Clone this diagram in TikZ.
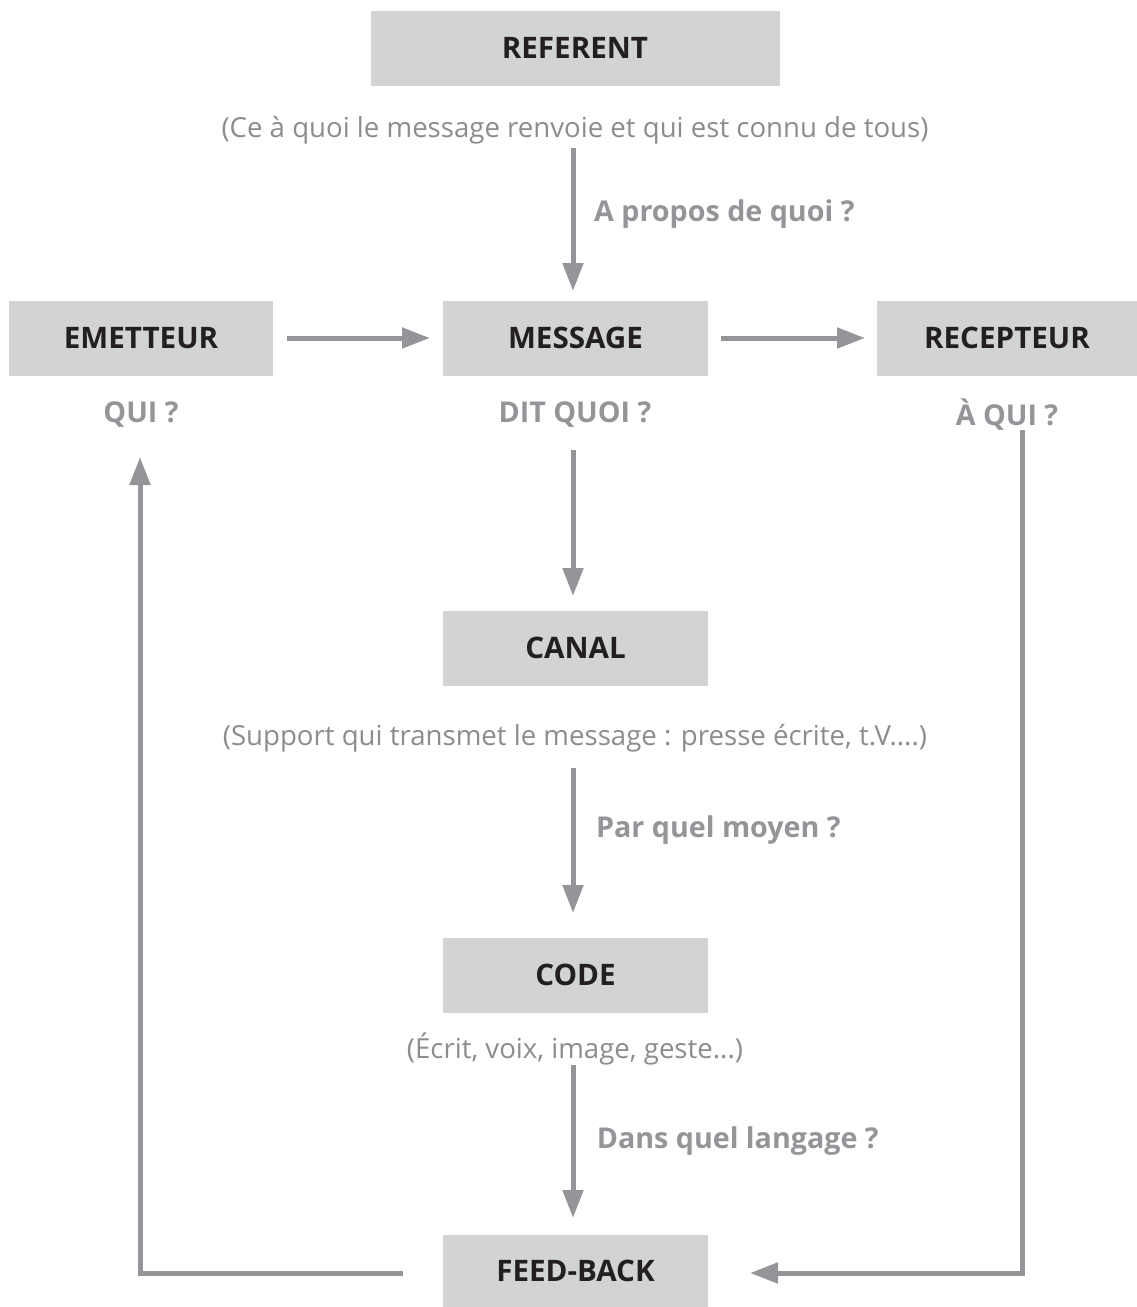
\documentclass[tikz,border=0pt]{standalone}
\usepackage{fontspec}
\setmainfont{Open Sans}
\usetikzlibrary{arrows.meta}
\definecolor{boxfill}{HTML}{D1D3D4}
\definecolor{inkdark}{HTML}{231F20}
\definecolor{arrowgray}{HTML}{939598}
\definecolor{notegray}{HTML}{8C8C8E}
\tikzset{
  box/.style={fill=boxfill, inner sep=0pt, minimum height=56.25pt,
    font=\bfseries\fontsize{22.2}{26}\selectfont, text=inkdark},
  smallbox/.style={box, minimum width=198.75pt},
  note/.style={inner sep=0pt, text=notegray, font=\fontsize{20.7}{24}\selectfont},
  question/.style={inner sep=0pt, text=arrowgray, font=\bfseries\fontsize{21.5}{25}\selectfont},
  flow/.style={draw=arrowgray, line width=3.75pt,
    -{Triangle[width=15pt,length=21pt]}},
}
\begin{document}
\begin{tikzpicture}[x=0.75pt, y=-0.75pt]
  \useasboundingbox (0,0) rectangle (1137,1307);

  % boxes
  \node[box, minimum width=306.75pt] (referent) at (575,48) {REFERENT};
  \node[box, minimum width=198pt] (emetteur) at (141,338) {EMETTEUR};
  \node[smallbox] (message) at (575.5,338) {MESSAGE};
  \node[box, minimum width=195pt] (recepteur) at (1007,338) {RECEPTEUR};
  \node[smallbox] (canal) at (575.5,648) {CANAL};
  \node[smallbox] (code) at (575.5,975) {CODE};
  \node[smallbox, minimum height=54pt] (feedback) at (575.5,1271) {FEED-BACK};

  % explanatory notes under the boxes
  \node[note] (n-ref) at (575,130) {(Ce à quoi le message renvoie et qui est connu de tous)};
  \node[note] (n-canal) at (575,738) {(Support qui transmet le message : presse écrite, t.V....)};
  \node[note] (n-code) at (575,1049) {(Écrit, voix, image, geste...)};

  % questions
  \node[question] (q-qui) at (141,415) {QUI ?};
  \node[question] (q-quoi) at (575,415) {DIT QUOI ?};
  \node[question] (q-aqui) at (1007,415) {À QUI ?};

  % vertical flow
  \coordinate (a1s) at (573,148);
  \coordinate (a1e) at (573,291);
  \draw[flow] (a1s) -- node[question, right=14pt, pos=0.46] (l-propos) {A propos de quoi ?} (a1e);

  \coordinate (a2s) at (573,450);
  \coordinate (a2e) at (573,596);
  \draw[flow] (a2s) -- (a2e);

  \coordinate (a3s) at (573,768);
  \coordinate (a3e) at (573,913);
  \draw[flow] (a3s) -- node[question, right=15.5pt, pos=0.43] (l-moyen) {Par quel moyen ?} (a3e);

  \coordinate (a4s) at (573,1065);
  \coordinate (a4e) at (573,1218);
  \draw[flow] (a4s) -- node[question, right=16pt, pos=0.5] (l-langage) {Dans quel langage ?} (a4e);

  % horizontal flow
  \coordinate (h1s) at (287,338);
  \coordinate (h1e) at (430,338);
  \draw[flow] (h1s) -- (h1e);
  \coordinate (h2s) at (721,338);
  \coordinate (h2e) at (865,338);
  \draw[flow] (h2s) -- (h2e);

  % feed-back loops
  \coordinate (fbl) at (403,1273);
  \coordinate (fbtop) at (140,457);
  \draw[flow] (fbl) -- (fbtop |- fbl) -- (fbtop);

  \coordinate (fbr) at (1022,430);
  \coordinate (fbtip) at (750,1273);
  \draw[flow] (fbr) -- (fbr |- fbtip) -- (fbtip);
\end{tikzpicture}
\end{document}
